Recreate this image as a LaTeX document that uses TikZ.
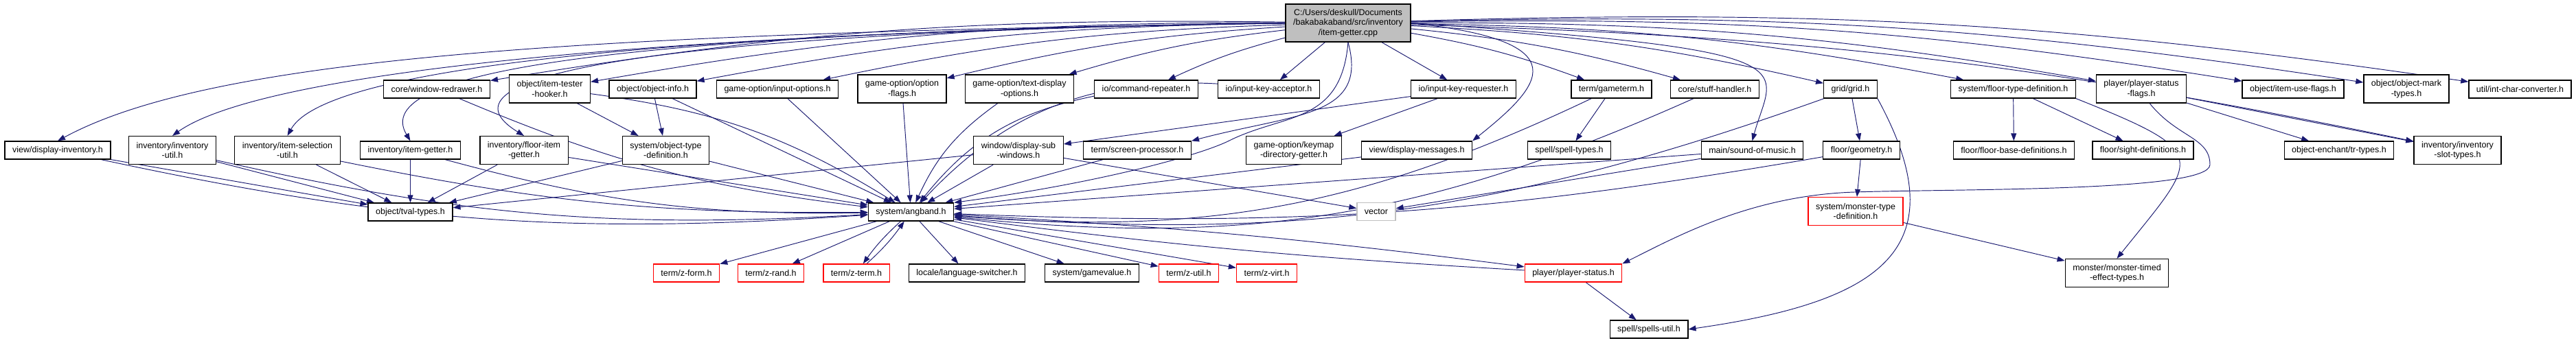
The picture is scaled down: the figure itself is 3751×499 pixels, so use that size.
\documentclass[tikz,border=0pt]{standalone}
\usepackage{fontspec}
\setmainfont{Liberation Sans}
\usetikzlibrary{arrows.meta, backgrounds}
\definecolor{edgeblue}{RGB}{25,25,112}
\definecolor{rootgray}{RGB}{191,191,191}
\definecolor{missred}{RGB}{255,0,0}
\definecolor{sysgray}{RGB}{191,191,191}

\begin{document}
\begin{tikzpicture}[x=0.2pt, y=-0.2pt,
  hdr/.style={draw=black, fill=white, line width=0.26pt, rectangle, align=center,
    inner xsep=2.2pt, inner ysep=0.6pt, minimum height=5.2pt,
    font=\fontsize{2.5}{2.9}\selectfont},
  two/.style={minimum height=8.2pt},
  redhdr/.style={hdr, draw=missred},
  syshdr/.style={hdr, draw=sysgray},
  roothdr/.style={hdr, fill=rootgray, minimum height=11pt},
  edge/.style={edgeblue, line width=0.19pt, -{Triangle[length=2.2pt, width=1.6pt]}}]
  \useasboundingbox (0,0) rectangle (3751,499);

  % the file itself
  \node[roothdr] (root) at (1963,33.5) {C:/Users/deskull/Documents\\/bakabakaband/src/inventory\\/item-getter.cpp};

  % first row of headers
  \node[hdr] (redrawer) at (636,130) {core/window-redrawer.h};
  \node[hdr, two] (hooker) at (800.5,129.5) {object/item-tester\\-hooker.h};
  \node[hdr] (objinfo) at (950.5,130) {object/object-info.h};
  \node[hdr] (inputopt) at (1132,130) {game-option/input-options.h};
  \node[hdr, two] (optflags) at (1313.5,129.5) {game-option/option\\-flags.h};
  \node[hdr, two] (textdisp) at (1484.5,129.5) {game-option/text-display\\-options.h};
  \node[hdr] (cmdrep) at (1669,130) {io/command-repeater.h};
  \node[hdr] (keyacc) at (1847.5,130) {io/input-key-acceptor.h};
  \node[hdr] (keyreq) at (2131,130) {io/input-key-requester.h};
  \node[hdr] (gameterm) at (2346.5,130) {term/gameterm.h};
  \node[hdr] (stuff) at (2497,130) {core/stuff-handler.h};
  \node[hdr] (grid) at (2694.5,130) {grid/grid.h};
  \node[hdr] (floortype) at (2931.5,130) {system/floor-type-definition.h};
  \node[hdr, two] (psflags) at (3118,129.5) {player/player-status\\-flags.h};
  \node[hdr] (itemuse) at (3339,130) {object/item-use-flags.h};
  \node[hdr, two] (objmark) at (3504,129.5) {object/object-mark\\-types.h};
  \node[hdr] (intchar) at (3669.5,130) {util/int-char-converter.h};

  % second row
  \node[hdr] (dispinv) at (84,219) {view/display-inventory.h};
  \node[hdr, two] (invutil) at (251,219) {inventory/inventory\\-util.h};
  \node[hdr, two] (itemsel) at (418.5,219) {inventory/item-selection\\-util.h};
  \node[hdr] (itemget) at (597.5,219) {inventory/item-getter.h};
  \node[hdr, two] (flooritem) at (763,219) {inventory/floor-item\\-getter.h};
  \node[hdr, two] (objtype) at (969.5,219) {system/object-type\\-definition.h};
  \node[hdr, two] (subwin) at (1483,219) {window/display-sub\\-windows.h};
  \node[hdr] (screenproc) at (1656,219) {term/screen-processor.h};
  \node[hdr, two] (keymap) at (1884,219) {game-option/keymap\\-directory-getter.h};
  \node[hdr] (dispmsg) at (2063,219) {view/display-messages.h};
  \node[hdr] (spelltypes) at (2285,219) {spell/spell-types.h};
  \node[hdr] (sound) at (2551.5,219) {main/sound-of-music.h};
  \node[hdr] (geometry) at (2710.5,219) {floor/geometry.h};
  \node[hdr] (floorbase) at (2932.5,219) {floor/floor-base-definitions.h};
  \node[hdr] (sight) at (3120.5,219) {floor/sight-definitions.h};
  \node[hdr] (trtypes) at (3406,219) {object-enchant/tr-types.h};
  \node[hdr, two] (slottypes) at (3578.5,219) {inventory/inventory\\-slot-types.h};

  % third row
  \node[hdr] (tval) at (597.5,309) {object/tval-types.h};
  \node[hdr] (angband) at (1326.5,309) {system/angband.h};
  \node[syshdr] (vector) at (2004,308.5) {vector};
  \node[redhdr, two] (montype) at (2702,308) {system/monster-type\\-definition.h};

  % fourth row
  \node[redhdr] (zform) at (999.5,398) {term/z-form.h};
  \node[redhdr] (zrand) at (1122.5,398) {term/z-rand.h};
  \node[redhdr] (zterm) at (1247,398) {term/z-term.h};
  \node[hdr] (lang) at (1408,398) {locale/language-switcher.h};
  \node[hdr] (gamevalue) at (1590,398) {system/gamevalue.h};
  \node[redhdr] (zutil) at (1731,398) {term/z-util.h};
  \node[redhdr] (zvirt) at (1844.5,398) {term/z-virt.h};
  \node[redhdr] (pstatus) at (2291,398) {player/player-status.h};
  \node[hdr, two] (montimed) at (3082.5,398) {monster/monster-timed\\-effect-types.h};
  \node[hdr] (spellsutil) at (2401,480) {spell/spells-util.h};

  \begin{pgfonlayer}{background}
    % includes of the file itself
    \foreach \n in {redrawer, hooker, objinfo, inputopt, optflags, textdisp, cmdrep}
      \draw[edge] (root) to[bend right=5] (\n);
    \foreach \n in {gameterm, stuff, grid, floortype, psflags, itemuse, objmark, intchar, slottypes}
      \draw[edge] (root) to[bend left=5] (\n);
    \draw[edge] (root) -- (keyacc);
    \draw[edge] (root) -- (keyreq);
    \foreach \n/\cx/\cy in {dispinv/230/-125, invutil/120/-85, itemsel/50/-90, itemget/-60/-100, flooritem/-130/-80}
      \draw[edge] (root.west) .. controls +(-1000,15) and +(\cx,\cy) .. (\n.north);
    \draw[edge] (root.south) .. controls +(-10,120) and +(80,-40) .. (1790,205)
      .. controls +(-40,20) and +(220,-30) .. (angband.north east);
    \draw[edge] (root.south) .. controls +(30,110) and +(150,-40) .. (screenproc.north east);
    \draw[edge] (root.east) .. controls +(250,27) and +(100,-80) .. (dispmsg.north east);
    \draw[edge] (root.east) .. controls +(600,40) and +(30,-110) .. (sound.north);

    % second level
    \draw[edge] (hooker) -- (objtype);
    \draw[edge] (objinfo) -- (objtype);
    \draw[edge] (keyreq) -- (subwin);
    \draw[edge] (keyreq) -- (keymap);
    \draw[edge] (gameterm) -- (spelltypes);
    \draw[edge] (grid) -- (geometry);
    \draw[edge] (grid.south east) .. controls +(120,220) and +(280,-40) .. (spellsutil.east);
    \draw[edge] (floortype) -- (floorbase);
    \draw[edge] (floortype) -- (sight);
    \draw[edge] (floortype.south east) .. controls +(200,80) and +(120,-150) .. (montimed.north);
    \draw[edge] (psflags) -- (trtypes);
    \draw[edge] (psflags) -- (slottypes);
    \draw[edge] (psflags.300) .. controls +(40,50) and +(0,-40) .. (3218,240)
      .. controls +(0,40) and +(150,-5) .. (2700,280)
      .. controls +(-150,5) and +(80,-40) .. (pstatus.north east);
    \draw[edge] (geometry) -- (montype);
    \draw[edge] (montype) -- (montimed);

    % into tval-types
    \foreach \n in {dispinv, invutil, itemsel, itemget, flooritem, objtype, subwin}
      \draw[edge] (\n) -- (tval);
    \draw[edge] (subwin) -- (vector);
    \draw[edge] (sound) -- (vector);

    % into angband
    \foreach \n in {objinfo, inputopt, optflags, screenproc, subwin, objtype, flooritem, dispmsg, sound}
      \draw[edge] (\n) -- (angband);
    \foreach \n/\b in {redrawer/8, textdisp/15, cmdrep/20, keyacc/25, dispinv/8, invutil/8, itemsel/6, itemget/8}
      \draw[edge] (\n) to[bend right=\b] (angband);
    \foreach \n/\b in {hooker/12, gameterm/15, stuff/15, grid/12, geometry/6}
      \draw[edge] (\n) to[bend left=\b] (angband);

    % out of angband
    \foreach \n in {zform, zrand, lang, gamevalue, zutil, zvirt}
      \draw[edge] (angband) -- (\n);
    \draw[edge] (angband) to[bend right=6] (zterm);
    \draw[edge] (zterm) to[bend right=6] (angband);
    \draw[edge] (angband) to[bend left=2] (pstatus);
    \draw[edge] (pstatus) to[bend left=2] (angband);
    \draw[edge] (pstatus) -- (spellsutil);
  \end{pgfonlayer}
\end{tikzpicture}
\end{document}
